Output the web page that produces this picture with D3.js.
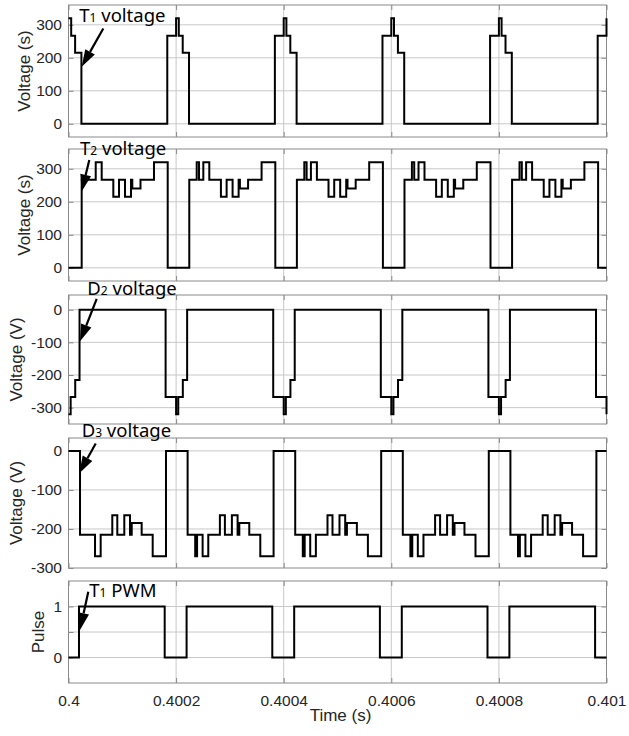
<!DOCTYPE html>
<html>
<head>
<meta charset="utf-8">
<script src="https://cdn.jsdelivr.net/npm/d3@7"></script>
<style>
  body { margin: 0; background: #fff; }
  svg text { font-family: "Liberation Sans", Arial, sans-serif; }
</style>
</head>
<body>
<svg id="chart" width="629" height="736"></svg>
<script>
// ---- data (time = microseconds after 0.4 s, value holds until next breakpoint) ----
const timeTicks = [0.4, 0.4002, 0.4004, 0.4006, 0.4008, 0.401];
const timeTickLabels = ["0.4", "0.4002", "0.4004", "0.4006", "0.4008", "0.401"];

const t1Us = [0, 5, 12.3, 24, 183.6,
              200, 205, 212.3, 224, 383.6,
              400, 405, 412.3, 424, 583.6,
              600, 605, 612.3, 624, 783.6,
              800, 805, 812.3, 824, 983.6, 1000];
const t1Volt = [320, 267, 215, 0, 267,
                320, 267, 215, 0, 267,
                320, 267, 215, 0, 267,
                320, 267, 215, 0, 267,
                320, 267, 215, 0, 267, 320];

const t2Us = [0, 24.5, 50.6, 61.7, 83.3, 93.9, 105, 116.2, 118.6, 133.8, 158.9, 184.4,
              224.5, 238.3, 242.6, 250.6, 261.7, 283.3, 293.9, 305, 316.2, 318.6, 333.8, 358.9, 384.4,
              424.5, 438.3, 442.6, 450.6, 461.7, 483.3, 493.9, 505, 516.2, 518.6, 533.8, 558.9, 584.4,
              624.5, 638.3, 642.6, 650.6, 661.7, 683.3, 693.9, 705, 716.2, 718.6, 733.8, 758.9, 784.4,
              824.5, 838.3, 842.6, 850.6, 861.7, 883.3, 893.9, 905, 916.2, 918.6, 933.8, 958.9, 984.4, 1000];
const t2Volt = [0, 267, 320, 267, 215, 267, 215, 267, 240, 267, 320, 0,
                267, 320, 267, 320, 267, 215, 267, 215, 267, 240, 267, 320, 0,
                267, 320, 267, 320, 267, 215, 267, 215, 267, 240, 267, 320, 0,
                267, 320, 267, 320, 267, 215, 267, 215, 267, 240, 267, 320, 0,
                267, 320, 267, 320, 267, 215, 267, 215, 267, 240, 267, 320, 0, 0];

const d2Us = [0, 4, 12.5, 20.5, 180.5,
              200, 204, 212.5, 220.5, 380.5,
              400, 404, 412.5, 420.5, 580.5,
              600, 604, 612.5, 620.5, 780.5,
              800, 804, 812.5, 820.5, 980.5, 1000];
const d2Volt = [-320, -267, -215, 0, -267,
                -320, -267, -215, 0, -267,
                -320, -267, -215, 0, -267,
                -320, -267, -215, 0, -267,
                -320, -267, -215, 0, -267, -320];

const d3Us = [0, 21.4, 49.3, 59.8, 81.4, 90.7, 103.7, 114.3, 117.5, 136, 156.5, 181.2,
              221.4, 235.5, 239, 249.3, 259.8, 281.4, 290.7, 303.7, 314.3, 317.5, 336, 356.5, 381.2,
              421.4, 435.5, 439, 449.3, 459.8, 481.4, 490.7, 503.7, 514.3, 517.5, 536, 556.5, 581.2,
              621.4, 635.5, 639, 649.3, 659.8, 681.4, 690.7, 703.7, 714.3, 717.5, 736, 756.5, 781.2,
              821.4, 835.5, 839, 849.3, 859.8, 881.4, 890.7, 903.7, 914.3, 917.5, 936, 956.5, 981.2, 1000];
const d3Volt = [0, -215, -270, -215, -165, -215, -165, -215, -185, -215, -270, 0,
                -215, -270, -215, -270, -215, -165, -215, -165, -215, -185, -215, -270, 0,
                -215, -270, -215, -270, -215, -165, -215, -165, -215, -185, -215, -270, 0,
                -215, -270, -215, -270, -215, -165, -215, -165, -215, -185, -215, -270, 0,
                -215, -270, -215, -270, -215, -165, -215, -165, -215, -185, -215, -270, 0, 0];

const pwmUs = [0, 19.5, 178.8, 219.5, 378.8, 419.5, 578.8, 619.5, 778.8, 819.5, 978.8, 1000];
const pwmPulse = [0, 1, 0, 1, 0, 1, 0, 1, 0, 1, 0, 0];

// ---- layout ----
const left = 68.5, right = 606.5;
const x = d3.scaleLinear().domain([0.4, 0.401]).range([left, right]);

const panels = [
  {us: t1Us, vals: t1Volt, top: 5, bottom: 137, domain: [-40, 360], ticks: [0, 100, 200, 300],
   label: "Voltage (s)", labelX: 29.5,
   note: {sub: "1", pre: "T", txt: " voltage", tx: 20, ty: 308, x1: 64.7, y1: 289, x2: 24.5, y2: 173}},
  {us: t2Us, vals: t2Volt, top: 149, bottom: 281, domain: [-40, 360], ticks: [0, 100, 200, 300],
   label: "Voltage (s)", labelX: 29.5,
   note: {sub: "2", pre: "T", txt: " voltage", tx: 21.4, ty: 342, x1: 38.7, y1: 327, x2: 24.5, y2: 231}},
  {us: d2Us, vals: d2Volt, top: 295, bottom: 424, domain: [-350, 45], ticks: [-300, -200, -100, 0],
   label: "Voltage (V)", labelX: 21.5,
   note: {sub: "2", pre: "D", txt: " voltage", tx: 35, ty: 45, x1: 52.4, y1: 33, x2: 21.4, y2: -97}},
  {us: d3Us, vals: d3Volt, top: 438, bottom: 568, domain: [-300, 33], ticks: [-300, -200, -100, 0],
   label: "Voltage (V)", labelX: 21.5,
   note: {sub: "3", pre: "D", txt: " voltage", tx: 24.5, ty: 35, x1: 50.6, y1: 19, x2: 20, y2: -57}},
  {us: pwmUs, vals: pwmPulse, top: 581, bottom: 683, domain: [-0.5, 1.5], ticks: [0, 0.5, 1],
   label: "Pulse", labelX: 43.5,
   note: {sub: "1", pre: "T", txt: " PWM", tx: 38.7, ty: 1.19, x1: 36.8, y1: 1.29, x2: 21.4, y2: 0.54}}
];

const svg = d3.select("#chart");
const axisColor = "#8a8a8a";
const gridColor = "#c8c8c8";
const textColor = "#262626";

panels.forEach(function(p, i) {
  const y = d3.scaleLinear().domain(p.domain).range([p.bottom, p.top]);
  const g = svg.append("g");

  // grid
  g.append("g").selectAll("line")
    .data(p.ticks.filter(v => y(v) > p.top + 0.5 && y(v) < p.bottom - 0.5))
    .join("line")
    .attr("x1", left).attr("x2", right)
    .attr("y1", d => y(d)).attr("y2", d => y(d))
    .attr("stroke", gridColor).attr("stroke-width", 1);
  g.append("g").selectAll("line")
    .data(timeTicks.slice(1, -1))
    .join("line")
    .attr("x1", d => x(d)).attr("x2", d => x(d))
    .attr("y1", p.top).attr("y2", p.bottom)
    .attr("stroke", gridColor).attr("stroke-width", 1);

  // axes (ticks pointing inward)
  const yl = g.append("g")
    .attr("transform", `translate(${left},0)`)
    .call(d3.axisLeft(y).tickValues(p.ticks).tickSizeInner(-5).tickSizeOuter(0).tickPadding(6.5)
      .tickFormat(d => d === 0.5 ? "" : String(d)));
  const yr = g.append("g")
    .attr("transform", `translate(${right},0)`)
    .call(d3.axisRight(y).tickValues(p.ticks).tickSizeInner(-5).tickSizeOuter(0).tickFormat(""));
  const xt = g.append("g")
    .attr("transform", `translate(0,${p.top})`)
    .call(d3.axisTop(x).tickValues(timeTicks).tickSizeInner(-5).tickSizeOuter(0).tickFormat(""));
  const xb = g.append("g")
    .attr("transform", `translate(0,${p.bottom})`)
    .call(d3.axisBottom(x).tickValues(timeTicks).tickSizeInner(-5).tickSizeOuter(0).tickPadding(12)
      .tickFormat((d, k) => i === panels.length - 1 ? timeTickLabels[k] : ""));
  [yl, yr, xt, xb].forEach(a => {
    a.select(".domain").remove();
    a.selectAll(".tick line").attr("stroke", axisColor);
    a.selectAll(".tick text").attr("fill", textColor).style("font-size", "15.5px");
  });

  // box
  g.append("rect")
    .attr("x", left).attr("y", p.top)
    .attr("width", right - left).attr("height", p.bottom - p.top)
    .attr("fill", "none").attr("stroke", axisColor).attr("stroke-width", 1);

  // waveform
  const pts = d3.zip(p.us, p.vals);
  const line = d3.line()
    .x(d => x(0.4 + d[0] * 1e-6))
    .y(d => y(d[1]))
    .curve(d3.curveStepAfter);
  g.append("path")
    .attr("d", line(pts))
    .attr("fill", "none")
    .attr("stroke", "#000")
    .attr("stroke-width", 2);

  // y label
  g.append("text")
    .attr("transform", `translate(${p.labelX},${(p.top + p.bottom) / 2}) rotate(-90)`)
    .attr("text-anchor", "middle")
    .attr("fill", textColor)
    .style("font-size", "17px")
    .text(p.label);

  // annotation
  const n = p.note;
  const t = g.append("text")
    .attr("x", x(0.4 + n.tx * 1e-6))
    .attr("y", y(n.ty))
    .attr("fill", "#000")
    .style("font-family", "'Noto Sans', sans-serif")
    .style("font-size", "18.5px");
  t.append("tspan").text(n.pre);
  t.append("tspan").style("font-size", "12px").text(n.sub);
  t.append("tspan").text(n.txt);

  const ax1 = x(0.4 + n.x1 * 1e-6), ay1 = y(n.y1);
  const ax2 = x(0.4 + n.x2 * 1e-6), ay2 = y(n.y2);
  const len = Math.hypot(ax2 - ax1, ay2 - ay1);
  const ux = (ax2 - ax1) / len, uy = (ay2 - ay1) / len;
  const headL = 17, headW = 5.5;
  const bx = ax2 - ux * headL, by = ay2 - uy * headL;
  g.append("line")
    .attr("x1", ax1).attr("y1", ay1).attr("x2", bx).attr("y2", by)
    .attr("stroke", "#000").attr("stroke-width", 2.2);
  g.append("path")
    .attr("d", `M${ax2},${ay2}L${bx - uy * headW},${by + ux * headW}L${bx + uy * headW},${by - ux * headW}Z`)
    .attr("fill", "#000");
});

// x label
svg.append("text")
  .attr("x", (left + right) / 2 + 3)
  .attr("y", 720.5)
  .attr("text-anchor", "middle")
  .attr("fill", textColor)
  .style("font-size", "17px")
  .text("Time (s)");
</script>
</body>
</html>
